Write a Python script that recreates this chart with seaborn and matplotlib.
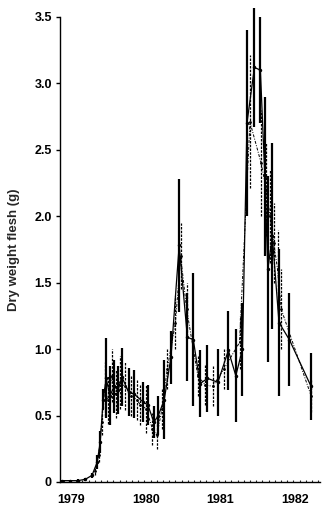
import numpy as np
import pandas as pd
import matplotlib
matplotlib.use("Agg")
import matplotlib.pyplot as plt
import seaborn as sns

# ---- data (decimal years) ----
solid_t = [1978.88, 1978.99, 1979.09, 1979.19, 1979.28, 1979.35, 1979.39, 1979.43,
           1979.47, 1979.52, 1979.58, 1979.63, 1979.68, 1979.77, 1979.85, 1979.97,
           1980.03, 1980.11, 1980.17, 1980.25, 1980.34, 1980.45, 1980.56, 1980.64,
           1980.73, 1980.83, 1980.97, 1981.11, 1981.21, 1981.30, 1981.36, 1981.46,
           1981.54, 1981.60, 1981.64, 1981.70, 1981.79, 1981.93, 1982.22]
solid_v = [0.01, 0.01, 0.01, 0.02, 0.05, 0.15, 0.30, 0.62,
           0.78, 0.65, 0.72, 0.69, 0.79, 0.68, 0.66, 0.60,
           0.58, 0.45, 0.50, 0.62, 0.94, 1.78, 1.09, 1.07,
           0.74, 0.78, 0.75, 0.99, 0.80, 1.00, 2.70, 3.12,
           3.10, 2.30, 1.60, 1.85, 1.20, 1.07, 0.72]
solid_e = [0.005, 0.005, 0.01, 0.01, 0.02, 0.05, 0.08, 0.08,
           0.30, 0.22, 0.20, 0.18, 0.22, 0.18, 0.18, 0.15,
           0.15, 0.12, 0.15, 0.30, 0.20, 0.50, 0.33, 0.50,
           0.25, 0.25, 0.25, 0.30, 0.35, 0.35, 0.70, 0.45,
           0.40, 0.60, 0.70, 0.70, 0.55, 0.35, 0.25]

dash_t = [1979.32, 1979.37, 1979.41, 1979.45, 1979.49, 1979.55, 1979.60, 1979.66,
          1979.72, 1979.80, 1979.88, 1979.93, 1980.01, 1980.09, 1980.15, 1980.22,
          1980.29, 1980.40, 1980.47, 1980.55, 1980.70, 1980.80, 1980.90, 1981.05,
          1981.26, 1981.40, 1981.55, 1981.62, 1981.67, 1981.72, 1981.77, 1981.82,
          1982.22]
dash_v = [0.08, 0.20, 0.45, 0.70, 0.62, 0.80, 0.66, 0.75,
          0.72, 0.65, 0.62, 0.58, 0.55, 0.40, 0.35, 0.55,
          0.85, 1.20, 1.70, 1.30, 0.80, 0.73, 0.72, 0.85,
          1.05, 2.71, 2.40, 2.20, 2.00, 1.80, 1.60, 1.30,
          0.65]
dash_e = [0.03, 0.05, 0.10, 0.20, 0.18, 0.20, 0.18, 0.20,
          0.18, 0.15, 0.15, 0.15, 0.18, 0.12, 0.10, 0.15,
          0.15, 0.20, 0.25, 0.20, 0.15, 0.15, 0.15, 0.15,
          0.20, 0.50, 0.40, 0.35, 0.35, 0.30, 0.30, 0.30,
          0.12]

year_ticks = [1979, 1980, 1981, 1982]
y_ticks = [0, 0.5, 1.0, 1.5, 2.0, 2.5, 3.0, 3.5]
y_labels = ["0", "0.5", "1.0", "1.5", "2.0", "2.5", "3.0", "3.5"]

sns.set_style("ticks")
plt.rcParams['font.family'] = ['Liberation Sans', 'DejaVu Sans']

df_s = pd.DataFrame({"t": solid_t, "v": solid_v, "e": solid_e})
df_d = pd.DataFrame({"t": dash_t, "v": dash_v, "e": dash_e})

fig = plt.figure(figsize=(3.25, 5.11), dpi=100)
ax = fig.add_axes([0.185, 0.0568, 0.80, 0.91])

# dash-dot series
sns.lineplot(data=df_d, x="t", y="v", ax=ax, color="black", lw=0.7,
             linestyle=(0, (3, 1.5, 1, 1.5)), marker="o", markersize=2,
             markeredgewidth=0, estimator=None, sort=False)
ax.vlines(df_d["t"], df_d["v"] - df_d["e"], df_d["v"] + df_d["e"],
          color="black", lw=0.9, linestyles=(0, (2, 1)), clip_on=False)

# solid series
sns.lineplot(data=df_s, x="t", y="v", ax=ax, color="black", lw=0.9,
             marker="o", markersize=2.5, markeredgewidth=0,
             estimator=None, sort=False)
ax.vlines(df_s["t"], df_s["v"] - df_s["e"], df_s["v"] + df_s["e"],
          color="black", lw=1.6, clip_on=False)

ax.set_xlim(1978.852, 1982.342)
ax.set_ylim(0, 3.5)
ax.set_yticks(y_ticks)
ax.set_yticklabels(y_labels)
ax.set_xticks(year_ticks)
ax.set_xticklabels([str(y) for y in year_ticks])
ax.set_xticks(np.arange(1978.9, 1982.34, 1 / 12), minor=True)

ax.set_xlabel("")
ax.set_ylabel("Dry weight flesh (g)", fontsize=9.5, fontweight="bold", labelpad=10)

sns.despine(ax=ax)
for s in ["left", "bottom"]:
    ax.spines[s].set_linewidth(1.0)
    ax.spines[s].set_color("black")

ax.tick_params(axis="y", direction="out", length=3, width=1, labelsize=9, pad=3,
               colors="black")
ax.tick_params(axis="x", which="major", length=0, labelsize=9, pad=9, colors="black")
ax.tick_params(axis="x", which="minor", direction="in", length=1.5, width=0.8)
for lab in ax.get_xticklabels() + ax.get_yticklabels():
    lab.set_fontweight("bold")

fig.savefig("out.png", dpi=100)
